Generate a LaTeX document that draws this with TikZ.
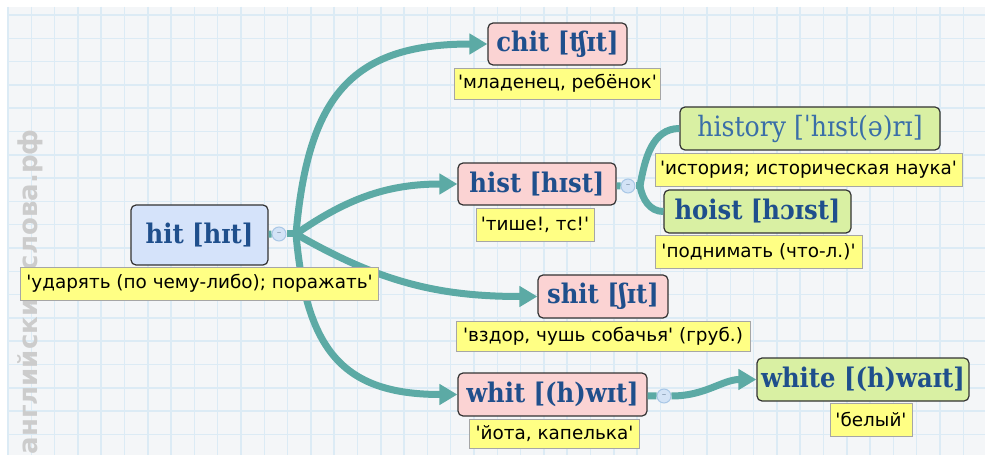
\documentclass[tikz,border=0pt]{standalone}
\usepackage{fontspec}
\setmainfont{DejaVu Sans}
\newfontfamily\wordfont{DejaVu Serif Condensed}
\newfontfamily\glossfont{DejaVu Sans}
\usetikzlibrary{arrows.meta,positioning}
\definecolor{wordblue}{HTML}{1F4F8C}
\definecolor{softblue}{HTML}{3A6EA8}
\definecolor{linkteal}{HTML}{5CAAA5}
\definecolor{glossyellow}{HTML}{FFFF84}
\definecolor{rootblue}{HTML}{D5E3FA}
\definecolor{childpink}{HTML}{FBD3D3}
\definecolor{leafgreen}{HTML}{D9F0A3}
\definecolor{gridline}{HTML}{DCEBF5}
\definecolor{paper}{HTML}{F4F6F8}
\definecolor{knobfill}{HTML}{D3E3F6}
\definecolor{knobedge}{HTML}{A9C7E6}
\newcommand{\q}{\textquotesingle}

\begin{document}
\begin{tikzpicture}[
  x=1pt,y=1pt,
  wordbox/.style={draw=black!80,rounded corners=5pt,line width=1.2pt,inner sep=0pt,
    minimum height=43pt,text=wordblue,font=\wordfont\bfseries\fontsize{27pt}{30pt}\selectfont},
  gloss/.style={draw=black!35,fill=glossyellow,line width=1pt,inner sep=0pt,
    minimum height=32pt,font=\glossfont\fontsize{18.4pt}{21pt}\selectfont},
  knob/.style={circle,draw=knobedge,fill=knobfill,line width=1pt,minimum size=14pt,inner sep=0pt,
    text=knobedge!70!black,font=\glossfont\fontsize{9pt}{9pt}\selectfont},
  link/.style={draw=linkteal,line width=7pt},
  arrow/.style={link,-{Triangle[length=18pt,width=20pt]}}
]
\useasboundingbox (0,0) rectangle (988,-462);
% paper with grid
\fill[white] (0,0) rectangle (988,-462);
\fill[paper] (7,-7) rectangle (985,-455);
\foreach \gx in {8,31.3,...,985}
  \draw[gridline,line width=1.5pt] (\gx,-7) -- (\gx,-455);
\foreach \gy in {15,38.3,...,455}
  \draw[gridline,line width=1.5pt] (7,-\gy) -- (985,-\gy);
\node[rotate=90,text=black!20,font=\glossfont\bfseries\fontsize{26pt}{30pt}\selectfont] (mark) at (30,-292) {английские-слова.рф};

% words
\node[wordbox,fill=rootblue,minimum width=137pt,minimum height=60pt] (hit) at (199.5,-235) {hit [hɪt]};
\node[wordbox,fill=childpink,minimum width=139pt,minimum height=42pt] (chit) at (557.5,-44) {chit [ʧɪt]};
\node[wordbox,fill=childpink,minimum width=158pt,minimum height=42pt] (hist) at (537,-184) {hist [hɪst]};
\node[wordbox,fill=childpink,minimum width=130pt] (shit) at (603,-296.5) {shit [ʃɪt]};
\node[wordbox,fill=childpink,minimum width=189pt] (whit) at (552.5,-394.5) {whit [(h)wɪt]};
\node[wordbox,fill=leafgreen,minimum width=260pt,text=softblue,font=\wordfont\fontsize{28pt}{30pt}\selectfont] (history) at (810,-128.5) {history [ˈhɪst(ə)rɪ]};
\node[wordbox,fill=leafgreen,minimum width=187pt] (hoist) at (757.5,-211.5) {hoist [hɔɪst]};
\node[wordbox,fill=leafgreen,minimum width=212pt] (white) at (863,-379.5) {white [(h)waɪt]};

% knobs and forks
\node[knob] (hitknob) at (279,-234) {–};
\coordinate (hitfork) at (296,-234);
\node[knob] (histknob) at (628,-186) {–};
\coordinate (histfork) at (640,-186);
\node[knob] (whitknob) at (664,-396) {–};

% connectors
\draw[link] (hit) -- (hitknob);
\draw[link] (hitknob) -- (hitfork);
\draw[arrow] (hitfork) to[out=85,in=180,looseness=1.3] (chit.west);
\draw[arrow] (hitfork) to[out=35,in=180] (hist.west);
\draw[arrow] (hitfork) to[out=-30,in=180] (shit.west);
\draw[arrow] (hitfork) to[out=-85,in=180,looseness=1.3] (whit.west);
\draw[link] (hist) -- (histknob);
\draw[link] (histknob) -- (histfork);
\draw[link] (histfork) to[out=80,in=180] (history.west);
\draw[link] (histfork) to[out=-80,in=180] (hoist.west);
\draw[link] (whit) -- (whitknob);
\draw[arrow] (whitknob) to[out=0,in=180] (white.west);

% translations
\node[gloss,minimum width=358pt,minimum height=33pt,below=1pt of hit] (hitgloss) {\q ударять (по чему-либо); поражать\q};
\node[gloss,minimum width=206pt,minimum height=31pt,below=2pt of chit] (chitgloss) {\q младенец, ребёнок\q};
\node[gloss,minimum width=118pt,minimum height=33pt,below=2pt of hist,xshift=-2pt] (histgloss) {\q тише!, тс!\q};
\node[gloss,minimum width=294pt,minimum height=30pt,below=2pt of shit] (shitgloss) {\q вздор, чушь собачья\q{} (груб.)};
\node[gloss,minimum width=170pt,minimum height=29pt,below=2pt of whit,xshift=2pt] (whitgloss) {\q йота, капелька\q};
\node[gloss,minimum width=307pt,minimum height=33pt,below=2pt of history,xshift=-1.5pt] (historygloss) {\q история; историческая наука\q};
\node[gloss,minimum width=207pt,minimum height=33pt,below=1pt of hoist,xshift=1pt] (hoistgloss) {\q поднимать (что-л.)\q};
\node[gloss,minimum width=82pt,minimum height=33pt,below=1pt of white,xshift=8pt] (whitegloss) {\q белый\q};
\end{tikzpicture}
\end{document}
